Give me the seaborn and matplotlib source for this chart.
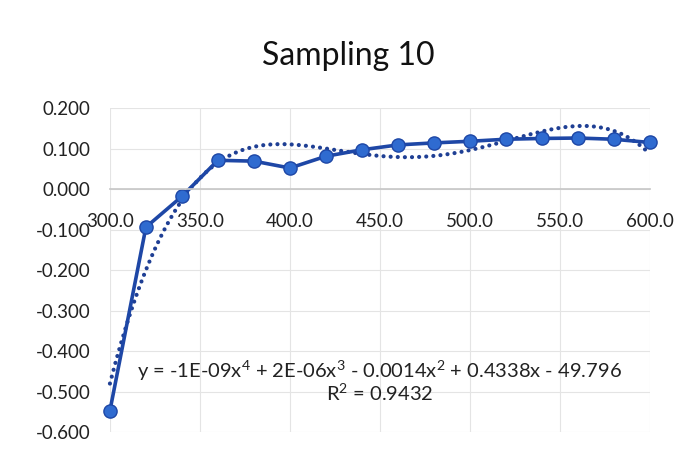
import numpy as np
import pandas as pd
import matplotlib
matplotlib.use('Agg')
import matplotlib.pyplot as plt
import seaborn as sns

# Wavelength samples and measured values
wavelength = [300, 320, 340, 360, 380, 400, 420, 440, 460, 480, 500, 520, 540, 560, 580, 600]
values = [-0.547, -0.094, -0.018, 0.071, 0.069, 0.052, 0.081, 0.097, 0.109,
          0.114, 0.118, 0.123, 0.125, 0.126, 0.123, 0.115]
x_ticks = [300, 350, 400, 450, 500, 550, 600]
y_ticks = [-0.6, -0.5, -0.4, -0.3, -0.2, -0.1, 0.0, 0.1, 0.2]
title = 'Sampling 10'
equation = 'y = -1E-09x$^4$ + 2E-06x$^3$ - 0.0014x$^2$ + 0.4338x - 49.796'
r_squared = 'R$^2$ = 0.9432'

sns.set_theme(style='whitegrid')
plt.rcParams['font.family'] = ['Lato', 'DejaVu Sans']
plt.rcParams['mathtext.fontset'] = 'custom'
plt.rcParams['mathtext.rm'] = 'Lato'

df = pd.DataFrame({'wavelength': wavelength, 'value': values})

fig = plt.figure(figsize=(6.87, 4.54), dpi=100)
ax = fig.add_axes([0.16, 0.048, 0.786, 0.714])

# Polynomial trendline (order 4), like Excel
coef = np.polyfit(wavelength, values, 4)
xs = np.linspace(300, 600, 300)
trend = pd.DataFrame({'wavelength': xs, 'value': np.polyval(coef, xs)})
sns.lineplot(data=trend, x='wavelength', y='value', ax=ax, color='#1f3f94',
             linestyle=(0, (0.01, 1.7)), linewidth=3.0, clip_on=False,
             dash_capstyle='round')

sns.lineplot(data=df, x='wavelength', y='value', ax=ax, color='#1e47a6',
             linewidth=2.6, marker='o', markersize=9.5, markerfacecolor='#2f6bd0',
             markeredgecolor='#1e47a6', markeredgewidth=1, clip_on=False)

ax.set_xlim(300, 600)
ax.set_ylim(-0.6, 0.2)
ax.set_xticks(x_ticks)
ax.set_yticks(y_ticks)
ax.set_xticklabels([f'{v:.1f}' for v in x_ticks])
ax.set_yticklabels([f'{v:.3f}' for v in y_ticks])
ax.tick_params(axis='both', labelsize=13.5, colors='#222222', length=0)
ax.tick_params(axis='x', pad=17)
ax.tick_params(axis='y', pad=14)

ax.spines['bottom'].set_position(('data', 0))
for side in ['left', 'right', 'top']:
    ax.spines[side].set_visible(False)
ax.spines['bottom'].set_color('#c8c8c8')
ax.grid(True, color='#e4e4e4', linewidth=0.8)
ax.set_xlabel('')
ax.set_ylabel('')

ax.text(0.5, 0.19, equation, transform=ax.transAxes, ha='center', va='center',
        fontsize=14.5, color='#222222')
ax.text(0.5, 0.12, r_squared, transform=ax.transAxes, ha='center', va='center',
        fontsize=14.5, color='#222222')

fig.suptitle(title, x=0.507, y=0.91, fontsize=23, color='#111111')

fig.savefig('out.png', dpi=100, facecolor='white')
